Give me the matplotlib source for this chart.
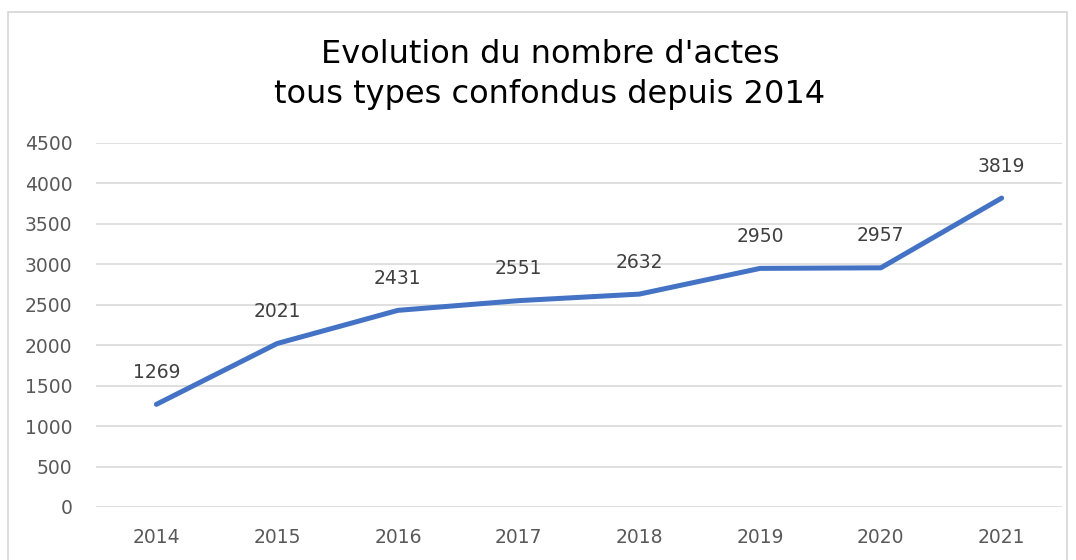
import matplotlib
matplotlib.use("Agg")
import matplotlib.pyplot as plt
from matplotlib.patches import Rectangle

years = ["2014", "2015", "2016", "2017", "2018", "2019", "2020", "2021"]
values = [1269, 2021, 2431, 2551, 2632, 2950, 2957, 3819]
yticks = [0, 500, 1000, 1500, 2000, 2500, 3000, 3500, 4000, 4500]

FONT = "DejaVu Sans"
plt.rcParams['font.family'] = [FONT]
W, H = 1076, 560
fig = plt.figure(figsize=(W / 100, H / 100), dpi=100)
fig.patch.set_facecolor("white")

fig.patches.append(Rectangle((8 / W, -0.05), (1067 - 8) / W, 1.05 - 12 / H,
                             transform=fig.transFigure, fill=False,
                             edgecolor="#d9d9d9", linewidth=1.3))

ax = fig.add_axes([96 / W, 1 - 507 / H, (1062 - 96) / W, (507 - 143) / H])
x = list(range(len(years)))
ax.plot(x, values, color="#4472C4", linewidth=3.6, solid_capstyle="round", zorder=3)
for xi, v in zip(x, values):
    ax.annotate(str(v), (xi, v), xytext=(0, 23), textcoords="offset points",
                ha="center", va="center", fontsize=13.5, color="#404040")

ax.set_xlim(-0.5, len(years) - 0.5)
ax.set_ylim(0, 4500)
ax.set_yticks(yticks)
ax.set_yticklabels([str(t) for t in yticks])
ax.set_xticks(x)
ax.set_xticklabels(years)
ax.tick_params(axis="both", length=0, labelsize=13.5, labelcolor="#595959")
ax.tick_params(axis="y", pad=17)
ax.tick_params(axis="x", pad=15)
ax.grid(axis="y", color="#d9d9d9", linewidth=1.2)
ax.set_axisbelow(True)
for s in ax.spines.values():
    s.set_visible(False)

fig.text(550 / W, 1 - 63 / H, "Evolution du nombre d'actes",
         ha="center", va="baseline", fontsize=23, color="#000000")
fig.text(550 / W, 1 - 103 / H, "tous types confondus depuis 2014",
         ha="center", va="baseline", fontsize=23, color="#000000")

fig.savefig("out.png", dpi=100)
